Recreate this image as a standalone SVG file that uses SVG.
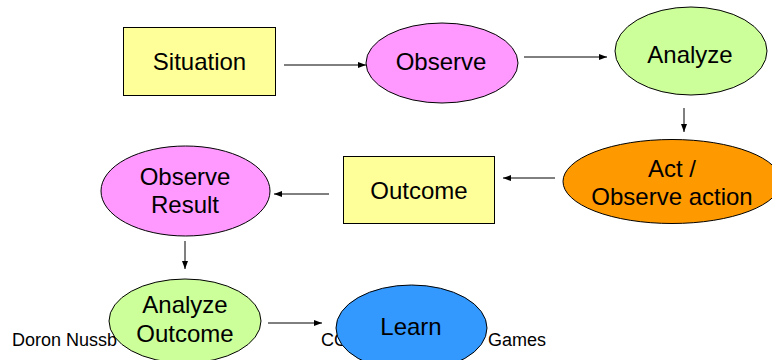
<svg xmlns="http://www.w3.org/2000/svg" width="772" height="360" viewBox="0 0 772 360">
  <style>
    .label { font-family: "Liberation Sans", Arial, sans-serif; font-size: 24px; fill: #000; text-anchor: middle; }
    .footer { font-family: "Liberation Sans", Arial, sans-serif; font-size: 18px; fill: #000; }
    .shape { stroke: #000; stroke-width: 1; }
    .link { stroke: #000; stroke-width: 1; fill: none; marker-end: url(#arrow); }
  </style>
  <defs>
    <marker id="arrow" viewBox="0 0 8 6" refX="8" refY="3" markerWidth="8" markerHeight="6" markerUnits="userSpaceOnUse" orient="auto">
      <path d="M0,0 L8,3 L0,6 Z" fill="#000"/>
    </marker>
  </defs>

  <rect width="772" height="360" fill="#fff"/>

  <!-- footer line, partly hidden behind the bottom nodes -->
  <g id="footer">
    <text class="footer" x="12" y="346">Doron Nussb</text>
    <text class="footer" x="321" y="346">CO</text>
    <text class="footer" x="488" y="346">Games</text>
  </g>

  <g id="connectors">
    <line class="link" x1="284" y1="65" x2="366" y2="65"/>
    <line class="link" x1="524" y1="57" x2="607" y2="57"/>
    <line class="link" x1="684" y1="108" x2="684" y2="132"/>
    <line class="link" x1="555" y1="178" x2="503" y2="178"/>
    <line class="link" x1="329" y1="194" x2="274" y2="194"/>
    <line class="link" x1="185" y1="241" x2="185" y2="269"/>
    <line class="link" x1="268" y1="323" x2="322" y2="323"/>
  </g>

  <g id="situation">
    <rect class="shape" x="123.5" y="27.5" width="152" height="68" fill="#FFFF99"/>
    <text class="label" x="199.5" y="70">Situation</text>
  </g>

  <g id="observe">
    <ellipse class="shape" cx="442" cy="63" rx="76" ry="40" fill="#FF99FF"/>
    <text class="label" x="441" y="70">Observe</text>
  </g>

  <g id="analyze">
    <ellipse class="shape" cx="691" cy="51" rx="76" ry="44" fill="#CCFF99"/>
    <text class="label" x="690" y="63">Analyze</text>
  </g>

  <g id="act">
    <ellipse class="shape" cx="672" cy="181.5" rx="109" ry="42" fill="#FF9900"/>
    <text class="label" x="672" y="177">Act /</text>
    <text class="label" x="672" y="205">Observe action</text>
  </g>

  <g id="outcome">
    <rect class="shape" x="343.5" y="156.5" width="151" height="67" fill="#FFFF99"/>
    <text class="label" x="419" y="199">Outcome</text>
  </g>

  <g id="observe-result">
    <ellipse class="shape" cx="185.5" cy="191" rx="84.5" ry="45" fill="#FF99FF"/>
    <text class="label" x="185" y="185">Observe</text>
    <text class="label" x="185" y="213">Result</text>
  </g>

  <g id="analyze-outcome">
    <ellipse class="shape" cx="185" cy="321" rx="76" ry="42" fill="#CCFF99"/>
    <text class="label" x="185" y="313">Analyze</text>
    <text class="label" x="185" y="342">Outcome</text>
  </g>

  <g id="learn">
    <ellipse class="shape" cx="411.5" cy="328" rx="75.5" ry="43" fill="#3399FF"/>
    <text class="label" x="411" y="335">Learn</text>
  </g>
</svg>
